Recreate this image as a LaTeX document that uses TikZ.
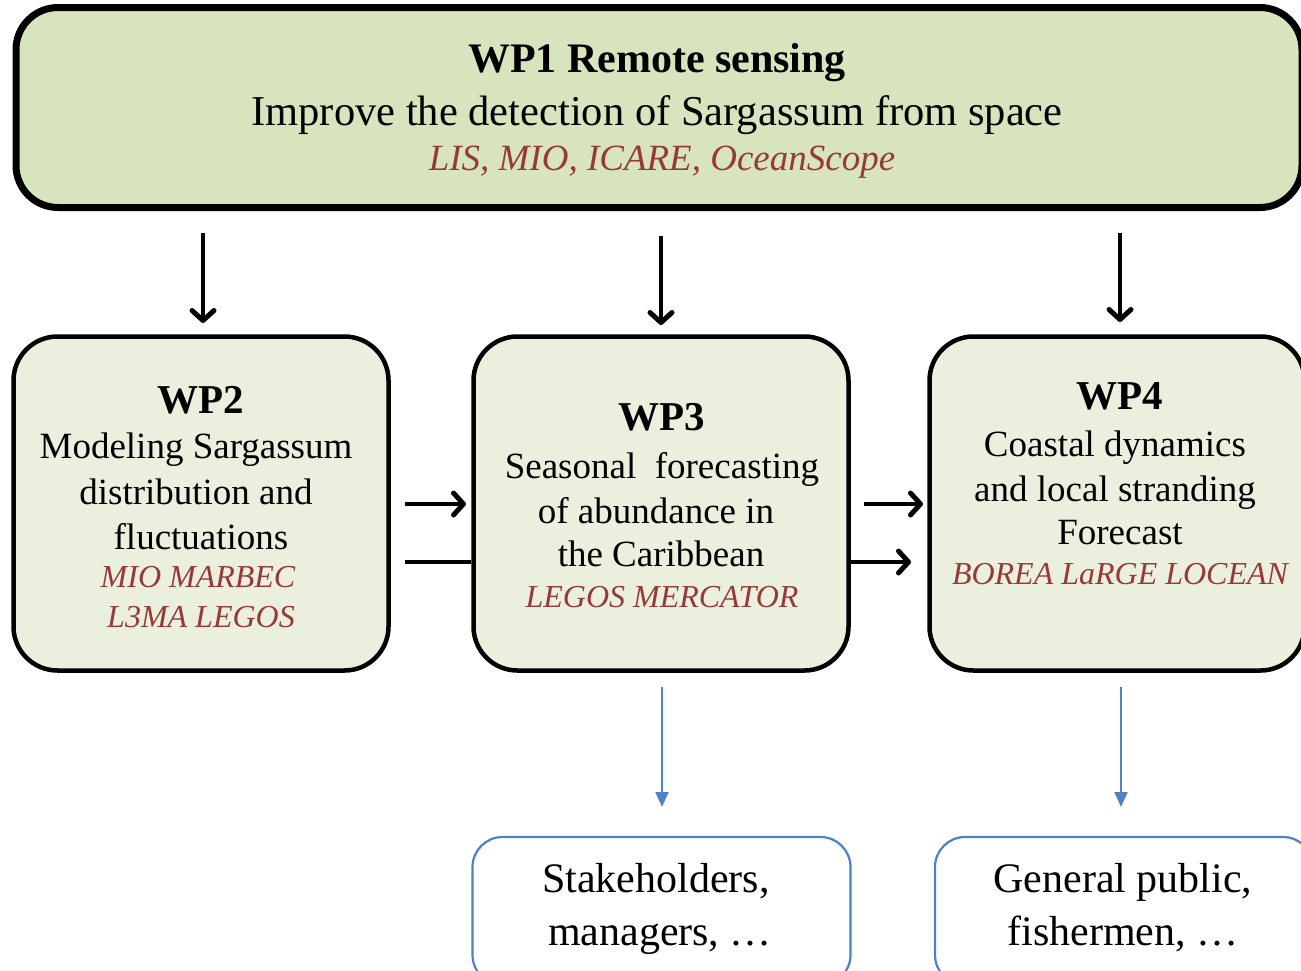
\documentclass[tikz,border=0pt]{standalone}
\usepackage{fontspec}
\setmainfont{Liberation Serif}
\usetikzlibrary{arrows.meta}
\definecolor{wponefill}{HTML}{D8E4BD}
\definecolor{wpfill}{HTML}{EBF0DE}
\definecolor{partred}{HTML}{963A38}
\definecolor{userblue}{HTML}{4F81C4}
\tikzset{
  bigbox/.style={draw=black, line width=7pt, fill=wponefill, rounded corners=42pt, inner sep=0pt},
  wpbox/.style={draw=black, line width=4.5pt, fill=wpfill, rounded corners=44pt, inner sep=0pt, minimum width=375pt, minimum height=334pt},
  userbox/.style={draw=userblue, line width=2.2pt, fill=white, rounded corners=30pt, inner sep=0pt, minimum width=378pt, minimum height=148pt},
  txt/.style={anchor=base, inner sep=0pt},
  blackarrow/.style={line width=4pt, -{Straight Barb[length=10pt,width=22pt,line width=5pt,round]}},
  blackline/.style={line width=4pt},
  bluearrow/.style={draw=userblue, line width=2pt, -{Triangle[length=15pt,width=13pt]}, userblue}
}
\begin{document}
\begin{tikzpicture}[x=1pt,y=-1pt]
\useasboundingbox (0,0) rectangle (1301,970);
\clip (0,0) rectangle (1301,970);

% boxes
\node[bigbox, minimum width=1286pt, minimum height=200pt] (wp1) at (659,107.5) {};
\node[wpbox] (wp2) at (201,503.5) {};
\node[wpbox] (wp3) at (661,503.5) {};
\node[wpbox] (wp4) at (1117,503.5) {};
\node[userbox] (u3) at (661.5,911) {};
\node[userbox] (u4) at (1124,911) {};

% WP1 text
\node[txt, font=\fontsize{42}{48}\selectfont\bfseries] (t1a) at (657,72) {WP1 Remote sensing};
\node[txt, font=\fontsize{42.5}{48}\selectfont] (t1b) at (657,125) {Improve the detection of Sargassum from space};
\node[txt, font=\fontsize{37}{44}\selectfont\itshape, text=partred] (t1c) at (662,170) {LIS, MIO, ICARE, OceanScope};

% WP2 text
\node[txt, font=\fontsize{41}{46}\selectfont\bfseries] (t2a) at (201,413) {WP2};
\node[txt, font=\fontsize{37}{44}\selectfont] (t2b) at (196,458) {Modeling Sargassum};
\node[txt, font=\fontsize{37}{44}\selectfont] (t2c) at (196,504) {distribution and};
\node[txt, font=\fontsize{37}{44}\selectfont] (t2d) at (201,549) {fluctuations};
\node[txt, font=\fontsize{32}{38}\selectfont\itshape, text=partred] (t2e) at (198,587) {MIO MARBEC};
\node[txt, font=\fontsize{32}{38}\selectfont\itshape, text=partred] (t2f) at (201,627) {L3MA LEGOS};

% WP3 text
\node[txt, font=\fontsize{41}{46}\selectfont\bfseries] (t3a) at (662,430) {WP3};
\node[txt, font=\fontsize{37}{44}\selectfont] (t3b) at (662,478) {Seasonal\ \ forecasting};
\node[txt, font=\fontsize{37}{44}\selectfont] (t3c) at (656,523) {of abundance in};
\node[txt, font=\fontsize{37}{44}\selectfont] (t3d) at (661,566) {the Caribbean};
\node[txt, font=\fontsize{32}{38}\selectfont\itshape, text=partred] (t3e) at (662,607) {LEGOS MERCATOR};

% WP4 text
\node[txt, font=\fontsize{41}{46}\selectfont\bfseries] (t4a) at (1120,409) {WP4};
\node[txt, font=\fontsize{37}{44}\selectfont] (t4b) at (1115,456) {Coastal dynamics};
\node[txt, font=\fontsize{37}{44}\selectfont] (t4c) at (1115,501) {and local stranding};
\node[txt, font=\fontsize{37}{44}\selectfont] (t4d) at (1120,544) {Forecast};
\node[txt, font=\fontsize{32}{38}\selectfont\itshape, text=partred] (t4e) at (1120,584) {BOREA LaRGE LOCEAN};

% user boxes text
\node[txt, font=\fontsize{42}{48}\selectfont] (u3a) at (656,892) {Stakeholders,};
\node[txt, font=\fontsize{42}{48}\selectfont] (u3b) at (660,945) {managers, …};
\node[txt, font=\fontsize{42}{48}\selectfont] (u4a) at (1123,892) {General public,};
\node[txt, font=\fontsize{42}{48}\selectfont] (u4b) at (1123,945) {fishermen, …};

% connector end points
\coordinate (d2s) at (203,233);
\coordinate (d2e) at (203,323);
\coordinate (d3s) at (661,236);
\coordinate (d3e) at (661,325);
\coordinate (d4s) at (1120,233);
\coordinate (d4e) at (1120,322);
\coordinate (h1s) at (405,504);
\coordinate (h1e) at (466,504);
\coordinate (h2s) at (405,562);
\coordinate (h3s) at (864,504);
\coordinate (h3e) at (923,504);
\coordinate (h4e) at (911,562);
\coordinate (b3s) at (662,687);
\coordinate (b3e) at (662,807);
\coordinate (b4s) at (1121,687);
\coordinate (b4e) at (1121,807);

% WP1 -> WP2/3/4
\draw[blackarrow] (d2s) -- (d2e);
\draw[blackarrow] (d3s) -- (d3e);
\draw[blackarrow] (d4s) -- (d4e);

% WP2 -> WP3
\draw[blackarrow] (h1s) -- (h1e);
\draw[blackline] (h2s) -- (h2s -| wp3.west);
% WP3 -> WP4
\draw[blackarrow] (h3s) -- (h3e);
\draw[blackarrow] (h4e -| wp3.east) -- (h4e);

% WP3/WP4 -> users
\draw[bluearrow] (b3s) -- (b3e);
\draw[bluearrow] (b4s) -- (b4e);
\end{tikzpicture}
\end{document}
